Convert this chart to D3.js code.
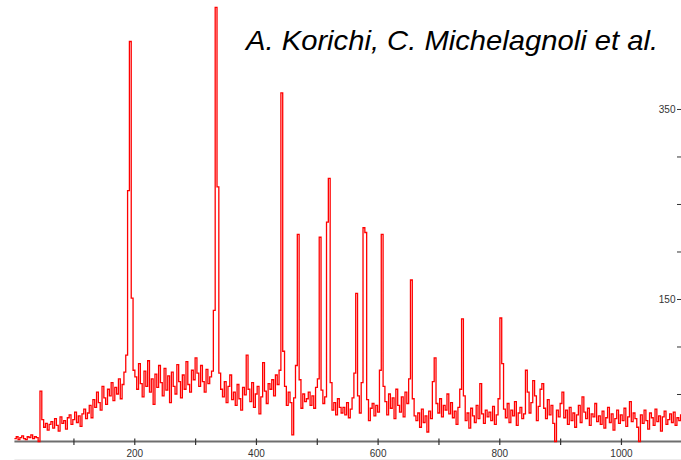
<!DOCTYPE html>
<html>
<head>
<meta charset="utf-8">
<script src="https://cdn.jsdelivr.net/npm/d3@7"></script>
<style>
  html, body { margin: 0; padding: 0; background: #fff; }
  svg { display: block; }
  .tick text { font-family: Arial, "Liberation Sans", sans-serif; font-size: 10px; fill: #333; }
</style>
</head>
<body>
<svg id="chart" width="681" height="460"></svg>
<script>
// Gamma-ray energy spectrum: counts per 3 keV bin starting at 3 keV
const binStart = 3;
const binWidth = 3;
const counts = [
  3,5,2,4,6,3,2,5,4,7,3,5,4,0,53,23,15,19,12,18,
  21,14,24,17,11,26,19,22,13,25,28,18,23,31,20,27,16,29,34,24,
  30,38,25,44,36,52,41,33,58,46,39,55,48,62,43,57,50,66,45,60,
  73,91,264,421,151,75,68,55,82,61,47,74,58,85,52,66,39,71,57,80,
  62,48,77,54,69,41,73,58,50,81,63,46,70,55,84,60,52,75,65,88,
  72,58,80,63,52,76,61,68,74,138,457,268,72,55,47,63,41,58,70,44,
  52,38,60,45,33,57,49,91,55,42,62,36,50,58,29,47,83,53,40,61,
  55,65,48,70,60,75,367,95,58,38,52,41,7,46,80,218,65,35,50,42,
  45,52,38,48,35,57,66,215,54,40,47,231,277,62,33,41,28,45,36,30,
  36,28,41,25,34,46,72,156,48,30,62,225,220,44,22,35,40,27,38,31,
  75,218,58,42,28,50,35,46,24,55,38,31,47,26,52,40,66,170,45,27,
  22,30,15,34,20,27,10,32,24,63,88,40,30,45,26,38,33,50,29,41,
  25,32,18,36,55,129,48,22,30,14,35,27,20,38,24,61,29,19,33,26,
  31,22,37,18,28,45,130,82,34,25,40,20,33,27,42,17,30,36,24,29,
  75,52,30,41,64,48,22,37,55,61,35,24,44,28,38,19,0,33,26,40,
  52,25,33,18,36,22,30,15,28,38,20,47,31,24,35,17,29,26,40,21,
  27,18,32,14,25,36,20,29,12,24,33,19,28,22,35,16,26,42,21,30,
  24,15,0,28,19,33,22,13,30,25,17,34,21,27,11,26,32,18,23,29,
  20,31,17,25,22,28
];

// Axis ticks
const xTickValues = [100, 200, 300, 400, 500, 600, 700, 800, 900, 1000];
const xTickLabels = [200, 400, 600, 800, 1000];
const yTickValues = [50, 100, 150, 200, 250, 300, 350];
const yTickLabels = [150, 350];

const titleText = "A. Korichi, C. Michelagnoli et al.";

const svg = d3.select("#chart");
const W = 681, H = 460;

const x = d3.scaleLinear().domain([0, 1100]).range([12.6, 681.8]);
const y = d3.scaleLinear().domain([0, 464.7]).range([441.5, 0]);

const eMin = binStart;
const eMax = binStart + counts.length * binWidth;

// faint rule under the tick labels
svg.append("line")
  .attr("x1", x(eMin)).attr("x2", W)
  .attr("y1", 459.5).attr("y2", 459.5)
  .attr("stroke", "#ececec").attr("stroke-width", 1);

// bottom axis
const xAxis = d3.axisBottom(x)
  .tickValues(xTickValues)
  .tickSizeOuter(0)
  .tickSize(3)
  .tickPadding(5)
  .tickFormat(d => xTickLabels.includes(d) ? d : "");

const gx = svg.append("g")
  .attr("transform", `translate(0,${y(0)})`)
  .call(xAxis);
gx.select(".domain").remove();
gx.insert("line", ":first-child")
  .attr("x1", x(eMin)).attr("x2", W)
  .attr("y1", 0).attr("y2", 0)
  .attr("stroke", "#6e6e6e").attr("stroke-width", 2);
gx.selectAll(".tick line")
  .attr("y1", -3).attr("y2", 3.5)
  .attr("stroke", "#333").attr("stroke-width", 1.2);

// right-hand count axis
const yAxis = d3.axisLeft(y)
  .tickValues(yTickValues)
  .tickSize(4)
  .tickPadding(1.5)
  .tickFormat(d => yTickLabels.includes(d) ? d : "");

const gy = svg.append("g")
  .attr("transform", `translate(${W},0)`)
  .call(yAxis);
gy.select(".domain").remove();
gy.selectAll(".tick line").attr("stroke", "#333");

// spectrum as a step histogram
const pts = counts.map((c, i) => [binStart + i * binWidth, c]);
pts.push([eMax, counts[counts.length - 1]]);

const line = d3.line()
  .x(d => x(d[0]))
  .y(d => y(d[1]))
  .curve(d3.curveStepAfter);

svg.append("path")
  .datum(pts)
  .attr("d", line)
  .attr("fill", "none")
  .attr("stroke", "#ff0000")
  .attr("stroke-width", 1.3)
  .attr("stroke-linejoin", "miter");

// author credit
svg.append("text")
  .attr("x", 246)
  .attr("y", 49.5)
  .attr("font-family", "Arial, 'Liberation Sans', sans-serif")
  .attr("font-style", "italic")
  .attr("font-size", 27.5)
  .attr("textLength", 412)
  .attr("lengthAdjust", "spacingAndGlyphs")
  .attr("fill", "#000")
  .text(titleText);
</script>
</body>
</html>
